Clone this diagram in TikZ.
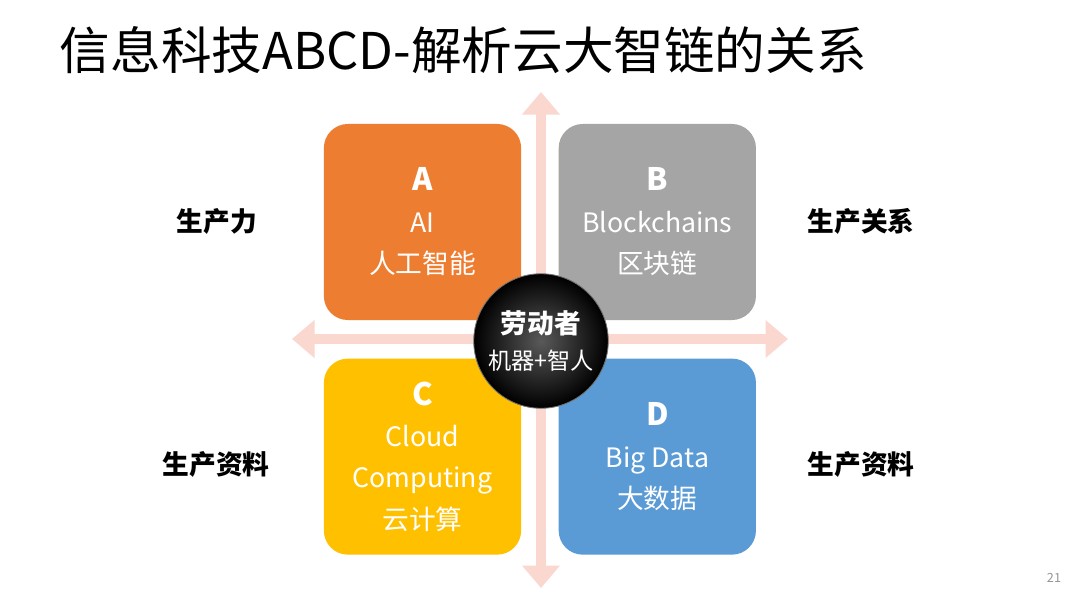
\documentclass[tikz,border=0pt]{standalone}
\usepackage{fontspec}
\setmainfont{Noto Sans CJK SC}
\usepackage{xcolor}
\usetikzlibrary{arrows.meta, positioning, shadings}
\definecolor{aiorange}{RGB}{237, 125, 49}
\definecolor{chaingray}{RGB}{165, 165, 165}
\definecolor{cloudyellow}{RGB}{255, 192, 0}
\definecolor{datablue}{RGB}{91, 155, 213}
\definecolor{axispink}{RGB}{250, 216, 207}
\definecolor{pagegray}{RGB}{150, 150, 150}
\tikzstyle{quad} = [rounded corners=0.6cm, minimum width=4.93cm, minimum height=4.9cm, text=white, align=center, font=\fontsize{19}{29.5}\selectfont]
\tikzstyle{axis} = [{Triangle[width=26pt,length=16pt]}-{Triangle[width=26pt,length=16pt]}, line width=7pt, axispink]
\tikzstyle{side} = [font=\fontsize{19}{22}\selectfont\bfseries]
\newcommand{\quadletter}[1]{{\fontsize{22}{29.5}\selectfont\bfseries #1}}

\begin{document}
\begin{tikzpicture}[x=0.025cm, y=-0.025cm]
    \useasboundingbox[fill=white] (0, 0) rectangle (1080, 608);

    % Title
    \node[anchor=west, font=\fontsize{36}{40}\selectfont] (title) at (55, 50) {信息科技ABCD-解析云大智链的关系};

    % Axes
    \coordinate (top) at (541, 92);
    \coordinate (bottom) at (541, 588);
    \coordinate (left) at (292, 339);
    \coordinate (right) at (788, 339);
    \draw[axis] (top) -- (bottom);
    \draw[axis] (left) -- (right);

    % Quadrants
    \node[quad, fill=aiorange] (ai) at (422.5, 222) {\quadletter{A}\\AI\\人工智能};
    \node[quad, fill=chaingray, right=0.925cm of ai] (chain) {\quadletter{B}\\Blockchains\\区块链};
    \node[quad, fill=cloudyellow, below=0.95cm of ai] (cloud) {\quadletter{C}\\Cloud\\Computing\\云计算};
    \node[quad, fill=datablue, below=0.95cm of chain] (data) {\quadletter{D}\\Big Data\\大数据};

    % Centre
    \node[circle, minimum size=3.15cm, inner color=black!65, outer color=black, draw=black!55, line width=0.6pt, text=white, align=center, font=\fontsize{16.5}{26}\selectfont] (worker) at (541, 341) {{\fontsize{19}{26}\selectfont\bfseries 劳动者}\\机器+智人};

    % Side labels
    \node[side] (force) at (217, 221) {生产力};
    \node[side] (relation) at (861, 221) {生产关系};
    \node[side] (meansl) at (216, 464) {生产资料};
    \node[side] (meansr) at (861, 464) {生产资料};

    % Page number
    \node[text=pagegray, font=\fontsize{9}{10}\selectfont] (page) at (1054, 578) {21};
\end{tikzpicture}
\end{document}
